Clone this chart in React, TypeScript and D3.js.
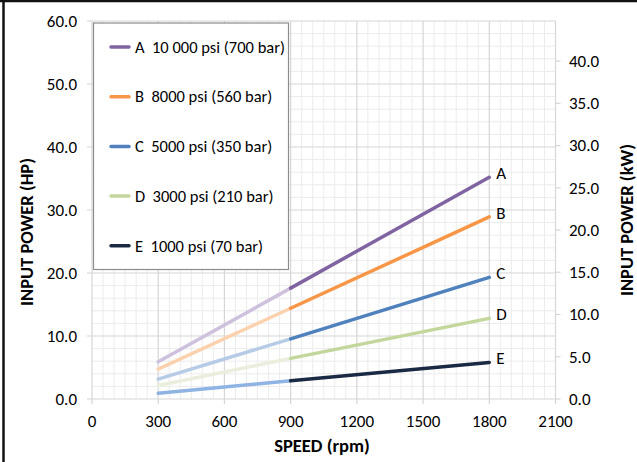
import React from "react";
import * as d3 from "d3";

const speeds = [300, 900, 1800];
const seriesNames = ["A", "B", "C", "D", "E"];
const legendLabels = [
  "A  10 000 psi (700 bar)",
  "B  8000 psi (560 bar)",
  "C  5000 psi (350 bar)",
  "D  3000 psi (210 bar)",
  "E  1000 psi (70 bar)",
];
const valuesA = [5.9, 17.6, 35.2];
const valuesB = [4.75, 14.4, 28.9];
const valuesC = [3.15, 9.55, 19.3];
const valuesD = [2.15, 6.45, 12.8];
const valuesE = [0.9, 2.9, 5.8];
const colors = ["#8064a2", "#f79646", "#4f81bd", "#c3d69b", "#1b2a44"];
const fadedColors = ["#cdc1dd", "#fcd2ae", "#b6cbe6", "#e9efdc", "#8fb4e3"];
const xTicks = [0, 300, 600, 900, 1200, 1500, 1800, 2100];
const yTicks = [0, 10, 20, 30, 40, 50, 60];
const kwTicks = [0, 5, 10, 15, 20, 25, 30, 35, 40];
const HP_TO_KW = 0.7457;

const FONT = "Carlito, Lato, 'Liberation Sans', sans-serif";

export default function App() {
  const W = 637, H = 462;
  const x = d3.scaleLinear().domain([0, 2100]).range([92, 555.5]);
  const y = d3.scaleLinear().domain([0, 60]).range([399, 21]);
  const yKw = d3.scaleLinear().domain([0, 60 * HP_TO_KW]).range([399, 21]);
  const allValues = [valuesA, valuesB, valuesC, valuesD, valuesE];

  const line = d3
    .line<[number, number]>()
    .x((d) => x(d[0]))
    .y((d) => y(d[1]));

  const minorX = d3.range(0, 2101, 50).filter((v) => v % 300 !== 0);
  const minorY = d3.range(0, 60.01, 2).filter((v) => v % 10 !== 0);

  const [x0, x1] = x.range();
  const [y0, y1] = y.range();
  const tickFs = 17;

  return (
    <svg width={W} height={H} style={{ position: "absolute", left: 0, top: 0, fontFamily: FONT }}>
      <rect x={0} y={0} width={W} height={H} fill="#ffffff" />
      {/* frame edges */}
      <line x1={0} x2={W} y1={1} y2={1} stroke="#111" strokeWidth={2.5} />
      <line x1={3.5} x2={3.5} y1={0} y2={H} stroke="#111" strokeWidth={2.5} />

      {/* minor grid */}
      {minorX.map((v) => (
        <line key={"mx" + v} x1={x(v)} x2={x(v)} y1={y1} y2={y0} stroke="#ececec" strokeWidth={1} />
      ))}
      {minorY.map((v) => (
        <line key={"my" + v} x1={x0} x2={x1} y1={y(v)} y2={y(v)} stroke="#ececec" strokeWidth={1} />
      ))}
      {/* major grid */}
      {xTicks.map((v) => (
        <line key={"gx" + v} x1={x(v)} x2={x(v)} y1={y1} y2={y0 + 5} stroke="#d6d6d6" strokeWidth={1.2} />
      ))}
      {yTicks.map((v) => (
        <line key={"gy" + v} x1={x0 - 5} x2={x1} y1={y(v)} y2={y(v)} stroke="#d6d6d6" strokeWidth={1.2} />
      ))}
      {kwTicks.map((v) => (
        <line key={"kt" + v} x1={x1} x2={x1 + 5} y1={yKw(v)} y2={yKw(v)} stroke="#d6d6d6" strokeWidth={1.2} />
      ))}

      {/* left axis labels */}
      {yTicks.map((v) => (
        <text key={"yl" + v} x={77} y={y(v)} dy="0.35em" textAnchor="end" fontSize={tickFs} fill="#000">
          {v.toFixed(1)}
        </text>
      ))}
      {/* right axis labels */}
      {kwTicks.map((v) => (
        <text key={"kl" + v} x={569} y={yKw(v)} dy="0.35em" textAnchor="start" fontSize={tickFs} fill="#000">
          {v.toFixed(1)}
        </text>
      ))}
      {/* bottom axis labels */}
      {xTicks.map((v) => (
        <text key={"xl" + v} x={x(v)} y={421} dy="0.35em" textAnchor="middle" fontSize={tickFs} fill="#000">
          {v}
        </text>
      ))}

      {/* axis titles */}
      <text x={322} y={446} dy="0.35em" textAnchor="middle" fontSize={18.5} fontWeight="bold" fill="#000">
        SPEED (rpm)
      </text>
      <text
        transform={`translate(27,232) rotate(-90)`}
        dy="0.35em"
        textAnchor="middle"
        fontSize={18.5}
        fontWeight="bold"
        fill="#000"
      >
        INPUT POWER (HP)
      </text>
      <text
        transform={`translate(627,220) rotate(-90)`}
        dy="0.35em"
        textAnchor="middle"
        fontSize={18.5}
        fontWeight="bold"
        fill="#000"
      >
        INPUT POWER (kW)
      </text>

      {/* series */}
      {allValues.map((vals, i) => {
        const faded: [number, number][] = [
          [speeds[0], vals[0]],
          [speeds[1], vals[1]],
        ];
        const solid: [number, number][] = [
          [speeds[1], vals[1]],
          [speeds[2], vals[2]],
        ];
        return (
          <g key={"s" + i}>
            <path d={line(faded) || ""} fill="none" stroke={fadedColors[i]} strokeWidth={3.5} strokeLinecap="round" />
            <path d={line(solid) || ""} fill="none" stroke={colors[i]} strokeWidth={3.5} strokeLinecap="round" />
            <text x={x(speeds[2]) + 7} y={y(vals[2]) - 4} dy="0.35em" fontSize={17} fill="#000">
              {seriesNames[i]}
            </text>
          </g>
        );
      })}

      {/* legend */}
      <rect x={93.5} y={23} width={195} height={246.5} fill="#ffffff" stroke="#8c8c8c" strokeWidth={1.2} />
      {legendLabels.map((lab, i) => {
        const ly = 47 + i * 49.7;
        return (
          <g key={"lg" + i}>
            <line x1={111} x2={129} y1={ly} y2={ly} stroke={colors[i]} strokeWidth={3.5} strokeLinecap="round" />
            <text x={135} y={ly} dy="0.35em" fontSize={16.5} fill="#000" style={{ whiteSpace: "pre" }}>
              {lab}
            </text>
          </g>
        );
      })}
    </svg>
  );
}
